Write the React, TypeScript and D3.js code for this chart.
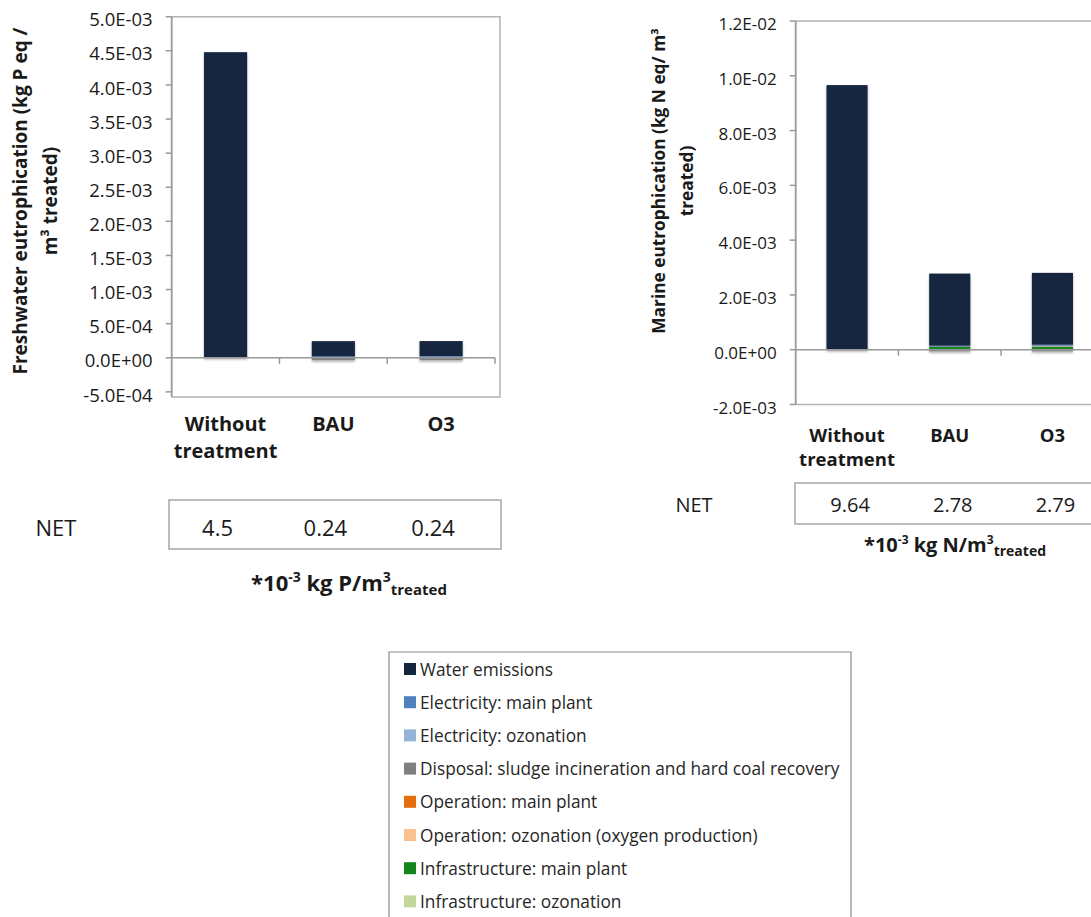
import React from "react";
import * as d3 from "d3";

const categories = ["Without treatment", "BAU", "O3"];
const categoryLines = [["Without", "treatment"], ["BAU"], ["O3"]];

const seriesNames = [
  "Water emissions",
  "Electricity: main plant",
  "Electricity: ozonation",
  "Disposal: sludge incineration and hard coal recovery",
  "Operation: main plant",
  "Operation: ozonation (oxygen production)",
  "Infrastructure: main plant",
  "Infrastructure: ozonation",
];
const seriesColors = ["#14253f", "#4f81bd", "#95b3d7", "#7f7f7f", "#e46c0a", "#fac090", "#13851c", "#c3d69b"];

// Freshwater eutrophication (kg P eq / m3 treated)
const fwWaterEmissions = [4.48e-3, 2.22e-4, 2.2e-4];
const fwElectricityMain = [0, 1.2e-5, 1.0e-5];
const fwElectricityOzonation = [0, 0, 4e-6];
const fwDisposal = [0, -3.5e-5, -3.5e-5];
const fwOperationMain = [0, 5e-6, 4e-6];
const fwOperationOzonation = [0, 0, 2e-6];
const fwInfrastructureMain = [0, 5e-6, 4e-6];
const fwInfrastructureOzonation = [0, 0, 1e-6];

// Marine eutrophication (kg N eq / m3 treated)
const meWaterEmissions = [9.66e-3, 2.63e-3, 2.62e-3];
const meElectricityMain = [0, 4e-5, 4e-5];
const meElectricityOzonation = [0, 0, 2e-5];
const meDisposal = [-2e-5, -6e-5, -6e-5];
const meOperationMain = [0, 1e-5, 1e-5];
const meOperationOzonation = [0, 0, 1e-5];
const meInfrastructureMain = [0, 1e-4, 1e-4];
const meInfrastructureOzonation = [0, 0, 5e-6];

const fwTicks = [-5e-4, 0, 5e-4, 1e-3, 1.5e-3, 2e-3, 2.5e-3, 3e-3, 3.5e-3, 4e-3, 4.5e-3, 5e-3];
const meTicks = [-2e-3, 0, 2e-3, 4e-3, 6e-3, 8e-3, 1e-2, 1.2e-2];

const fwNet = ["4.5", "0.24", "0.24"];
const meNet = ["9.64", "2.78", "2.79"];

const FONT = "'Open Sans', 'DejaVu Sans', sans-serif";
const AXIS = "#999999";

function fmtE(v: number): string {
  const [m, e] = v.toExponential(1).split("e");
  const n = +e;
  return `${m}E${n < 0 ? "-" : "+"}${String(Math.abs(n)).padStart(2, "0")}`;
}

type ChartProps = {
  series: number[][];
  ticks: number[];
  domain: [number, number];
  left: number;
  right: number;
  frameRight: number;
  top: number;
  bottom: number;
  frameBottom: number;
  tickFont: number;
  catFont: number;
  catY: number;
  catDy: number;
  titleLines: string[];
  titleX: number[];
  titleY: number;
  titleFont: number;
  id: string;
};

function StackChart(p: ChartProps) {
  const x = d3.scaleBand<string>().domain(categories).range([p.left, p.right]).paddingInner(0.6).paddingOuter(0.3);
  const y = d3.scaleLinear().domain(p.domain).range([p.bottom, p.top]);
  const keys = seriesNames.slice().reverse();
  const rows = categories.map((c, i) => {
    const r: any = { cat: c };
    seriesNames.forEach((n, s) => (r[n] = p.series[s][i]));
    return r;
  });
  const stacked = d3.stack<any>().keys(keys).offset(d3.stackOffsetDiverging)(rows);
  const step = x.step();
  return (
    <g>
      <defs>
        <filter id={`sh-${p.id}`} x="-10%" y="-10%" width="130%" height="130%">
          <feDropShadow dx="0" dy="1.5" stdDeviation="1.2" floodColor="#000" floodOpacity="0.35" />
        </filter>
      </defs>
      <path
        d={`M${p.left},${p.top}H${p.frameRight}V${p.frameBottom}H${p.left}`}
        fill="none"
        stroke="#b3b3b3"
        strokeWidth={1.5}
      />
      <g filter={`url(#sh-${p.id})`}>
        {stacked.map((layer) => {
          const ci = seriesNames.indexOf(layer.key);
          return layer.map((d, i) => {
            const y0 = y(d[0]);
            const y1 = y(d[1]);
            const h = Math.abs(y0 - y1);
            if (h < 0.01) return null;
            return (
              <rect
                key={`${layer.key}-${i}`}
                x={x(categories[i])}
                y={Math.min(y0, y1)}
                width={x.bandwidth()}
                height={h}
                fill={seriesColors[ci]}
              />
            );
          });
        })}
      </g>
      <line x1={p.left} x2={p.right} y1={y(0)} y2={y(0)} stroke={AXIS} strokeWidth={1.5} />
      {categories.map((c, i) => (
        <line key={c} x1={p.left + step * (i + 1)} x2={p.left + step * (i + 1)} y1={y(0)} y2={y(0) + 6} stroke={AXIS} strokeWidth={1.5} />
      ))}
      <line x1={p.left} x2={p.left} y1={p.top} y2={p.frameBottom} stroke={AXIS} strokeWidth={1.8} />
      {p.ticks.map((t) => (
        <g key={t}>
          <line x1={p.left - 6} x2={p.left} y1={y(t)} y2={y(t)} stroke={AXIS} strokeWidth={1.5} />
          <text
            x={p.left - 19}
            y={y(t) + 3}
            dy="0.36em"
            textAnchor="end"
            fontSize={p.tickFont}
            fontFamily={FONT}
            fill="#1a1a1a"
          >
            {fmtE(t)}
          </text>
        </g>
      ))}
      {categories.map((c, i) => (
        <text
          key={c}
          x={(x(c) as number) + x.bandwidth() / 2}
          y={p.catY}
          textAnchor="middle"
          fontSize={p.catFont}
          fontWeight="bold"
          fontFamily={FONT}
          fill="#1a1a1a"
        >
          {categoryLines[i].map((l, j) => (
            <tspan key={j} x={(x(c) as number) + x.bandwidth() / 2} dy={j === 0 ? 0 : p.catDy}>
              {l}
            </tspan>
          ))}
        </text>
      ))}
      {p.titleLines.map((l, j) => (
        <text
          key={j}
          transform={`translate(${p.titleX[j]},${p.titleY}) rotate(-90)`}
          textAnchor="middle"
          fontSize={p.titleFont}
          fontWeight="bold"
          fontFamily={FONT}
          fill="#1a1a1a"
        >
          {l}
        </text>
      ))}
    </g>
  );
}

function NetTable(props: {
  values: string[];
  label: [number, number];
  box: [number, number, number, number];
  centers: number[];
  baseline: number;
  font: number;
  unit: string;
  unitX: number;
  unitY: number;
  unitFont: number;
}) {
  const [bx, by, bw, bh] = props.box;
  const sup = Math.round(props.unitFont * 0.62);
  const sub = Math.round(props.unitFont * 0.68);
  return (
    <g fontFamily={FONT} fill="#1a1a1a">
      <text x={props.label[0]} y={props.label[1]} textAnchor="middle" fontSize={props.font}>
        NET
      </text>
      <rect x={bx} y={by} width={bw} height={bh} fill="none" stroke="#a6a6a6" strokeWidth={1.5} />
      {props.values.map((v, i) => (
        <text key={i} x={props.centers[i]} y={props.baseline} textAnchor="middle" fontSize={props.font}>
          {v}
        </text>
      ))}
      <text x={props.unitX} y={props.unitY} textAnchor="middle" fontSize={props.unitFont} fontWeight="bold">
        <tspan>*10</tspan>
        <tspan fontSize={sup} dy={-props.unitFont * 0.42}>-3</tspan>
        <tspan dy={props.unitFont * 0.42}>{` kg ${props.unit}/m`}</tspan>
        <tspan fontSize={sup} dy={-props.unitFont * 0.42}>3</tspan>
        <tspan fontSize={sub} dy={props.unitFont * 0.62}>treated</tspan>
      </text>
    </g>
  );
}

function Legend() {
  const x0 = 389;
  const y0 = 652;
  const gap = 33.2;
  return (
    <g fontFamily={FONT}>
      <path d={`M${x0},930V${y0}H851V930`} fill="none" stroke="#8c8c8c" strokeWidth={1.2} />
      {seriesNames.map((n, i) => (
        <g key={n}>
          <rect x={x0 + 15} y={y0 + 11 + i * gap} width={12} height={12} fill={seriesColors[i]} />
          <text x={x0 + 31} y={y0 + 23.5 + i * gap} fontSize={17.3} fill="#262626">
            {n}
          </text>
        </g>
      ))}
    </g>
  );
}

export default function App() {
  const fwSeries = [
    fwWaterEmissions,
    fwElectricityMain,
    fwElectricityOzonation,
    fwDisposal,
    fwOperationMain,
    fwOperationOzonation,
    fwInfrastructureMain,
    fwInfrastructureOzonation,
  ];
  const meSeries = [
    meWaterEmissions,
    meElectricityMain,
    meElectricityOzonation,
    meDisposal,
    meOperationMain,
    meOperationOzonation,
    meInfrastructureMain,
    meInfrastructureOzonation,
  ];
  const fwStep = (495 - 171.7) / 3;
  const meStep = (1103.8 - 795.7) / 3;
  return (
    <svg
      width={1091}
      height={917}
      style={{ position: "absolute", left: 0, top: 0, background: "#fff" }}
    >
      <rect width={1091} height={917} fill="#fff" />
      <StackChart
        id="fw"
        series={fwSeries}
        ticks={fwTicks}
        domain={[-5e-4, 5e-3]}
        left={171.7}
        right={495}
        frameRight={500}
        top={16.7}
        bottom={391.9}
        frameBottom={397}
        tickFont={18.5}
        catFont={20}
        catY={431}
        catDy={27}
        titleLines={["Freshwater eutrophication (kg P eq /", "m³ treated)"]}
        titleX={[27, 57]}
        titleY={201}
        titleFont={19}
      />
      <StackChart
        id="me"
        series={meSeries}
        ticks={meTicks}
        domain={[-2e-3, 1.2e-2]}
        left={795.7}
        right={1103.8}
        frameRight={1120}
        top={21}
        bottom={404.5}
        frameBottom={404.5}
        tickFont={17}
        catFont={18.5}
        catY={441.5}
        catDy={24}
        titleLines={["Marine eutrophication (kg N eq/ m³", "treated)"]}
        titleX={[665, 693]}
        titleY={181}
        titleFont={17.3}
      />
      <NetTable
        values={fwNet}
        label={[56, 536]}
        box={[169, 500, 332, 49]}
        centers={[0, 1, 2].map((i) => 171.7 + fwStep * (i + 0.5) - 8)}
        baseline={536}
        font={22}
        unit="P"
        unitX={349}
        unitY={591}
        unitFont={22}
      />
      <NetTable
        values={meNet}
        label={[694, 512]}
        box={[795, 483, 320, 41]}
        centers={[0, 1, 2].map((i) => 795.7 + meStep * (i + 0.5) + 3)}
        baseline={512}
        font={20}
        unit="N"
        unitX={955}
        unitY={552}
        unitFont={20}
      />
      <Legend />
    </svg>
  );
}
